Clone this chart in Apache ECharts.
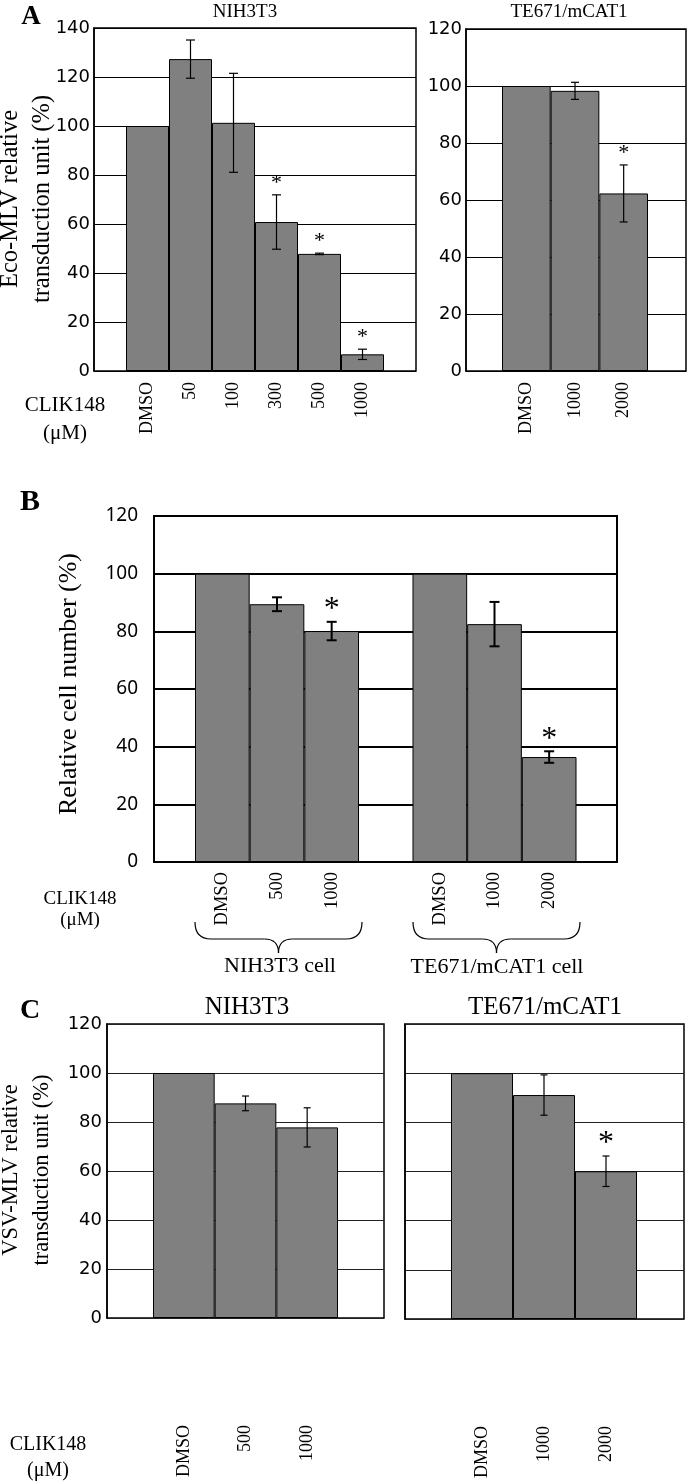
<!DOCTYPE html>
<html><head><meta charset="utf-8">
<script src="https://cdn.jsdelivr.net/npm/echarts@6/dist/echarts.min.js"></script>
<style>html,body{margin:0;padding:0;background:#fff}#c{width:688px;height:1483px}</style>
</head><body><div id="c"></div>
<script>
// ---- data ----
const aNihCats = ['DMSO', '50', '100', '300', '500', '1000'];
const aNihVals = [100, 127.3, 101.3, 60.8, 47.8, 6.8];
const aNihErr  = [0, 7.8, 20.2, 11.1, 0.3, 2.1];
const aNihSig  = [0, 0, 0, 1, 1, 1];

const aTeCats = ['DMSO', '1000', '2000'];
const aTeVals = [100, 98.3, 62.3];
const aTeErr  = [0, 3.0, 10.0];
const aTeSig  = [0, 0, 1];

const bNihCats = ['DMSO', '500', '1000'];
const bNihVals = [100, 89.4, 80.1];
const bNihErr  = [0, 2.4, 3.2];
const bNihSig  = [0, 0, 1];

const bTeCats = ['DMSO', '1000', '2000'];
const bTeVals = [100, 82.5, 36.4];
const bTeErr  = [0, 7.7, 2.0];
const bTeSig  = [0, 0, 1];

const cNihCats = ['DMSO', '500', '1000'];
const cNihVals = [100, 87.6, 77.8];
const cNihErr  = [0, 3.0, 8.0];
const cNihSig  = [0, 0, 0];

const cTeCats = ['DMSO', '1000', '2000'];
const cTeVals = [100, 91.1, 60.1];
const cTeErr  = [0, 8.2, 6.2];
const cTeSig  = [0, 0, 1];

const yTicksA1 = 140, yTicksA2 = 120, yTicksB = 120, yTicksC = 120;

// ---- layout / style ----
const SERIF = '"Liberation Serif","Times New Roman",serif';
const SANS = '"DejaVu Sans",sans-serif';

const panels = [
  { outer: {left: 94, top: 28, width: 322, height: 343}, yMax: yTicksA1, yLab: {show: true, font: SANS, size: 18, margin: 4},
    grid: {color: '#000', w: 1}, frame: 1.5, xLab: {size: 18, margin: 11},
    err: {lw: 1.2, cap: 9}, star: {size: 22, off: 12},
    inners: [{left: 126, width: 258, cats: aNihCats, vals: aNihVals, errs: aNihErr, sig: aNihSig}] },
  { outer: {left: 466, top: 29, width: 220, height: 342}, yMax: yTicksA2, yLab: {show: true, font: SANS, size: 18, margin: 4},
    grid: {color: '#000', w: 1}, frame: 1.5, xLab: {size: 18, margin: 11},
    err: {lw: 1.2, cap: 8}, star: {size: 22, off: 12},
    inners: [{left: 502, width: 146, cats: aTeCats, vals: aTeVals, errs: aTeErr, sig: aTeSig}] },
  { outer: {left: 154, top: 516, width: 463, height: 346}, yMax: yTicksB, yLab: {show: true, font: '"Noto Sans",sans-serif', size: 19, margin: 16},
    grid: {color: '#000', w: 2}, frame: 2, xLab: {size: 18.5, margin: 10},
    err: {lw: 2, cap: 10}, star: {size: 32, off: 12},
    inners: [{left: 195, width: 164, cats: bNihCats, vals: bNihVals, errs: bNihErr, sig: bNihSig},
             {left: 412.5, width: 164, cats: bTeCats, vals: bTeVals, errs: bTeErr, sig: bTeSig}] },
  { outer: {left: 107, top: 1024, width: 277, height: 294}, yMax: yTicksC, yLab: {show: true, font: SANS, size: 18, margin: 5},
    grid: {color: '#222', w: 1}, frame: 1.5, xLab: {size: 18, margin: 107},
    err: {lw: 1.2, cap: 7}, star: {size: 32, off: 12},
    inners: [{left: 153, width: 185, cats: cNihCats, vals: cNihVals, errs: cNihErr, sig: cNihSig}] },
  { outer: {left: 405, top: 1024, width: 279, height: 295}, yMax: yTicksC, yLab: {show: false, font: SANS, size: 18, margin: 5},
    grid: {color: '#222', w: 1}, frame: 1.5, xLab: {size: 18, margin: 107},
    err: {lw: 1.2, cap: 7}, star: {size: 32, off: 12},
    inners: [{left: 451, width: 186, cats: cTeCats, vals: cTeVals, errs: cTeErr, sig: cTeSig}] }
];

const grids = [], xAxes = [], yAxes = [], series = [];

function errRender(p) {
  return function (params, api) {
    const i = api.value(0), v = api.value(1), e = api.value(2), s = api.value(3);
    const children = [];
    const ctr = api.coord([i, v]);
    let topY = ctr[1];
    const ls = {stroke: '#000', lineWidth: p.err.lw};
    if (e > 0) {
      const t = api.coord([i, v + e]), b = api.coord([i, v - e]);
      const hw = p.err.cap / 2;
      children.push({type: 'line', shape: {x1: t[0], y1: t[1], x2: b[0], y2: b[1]}, style: ls});
      children.push({type: 'line', shape: {x1: t[0] - hw, y1: t[1], x2: t[0] + hw, y2: t[1]}, style: ls});
      children.push({type: 'line', shape: {x1: b[0] - hw, y1: b[1], x2: b[0] + hw, y2: b[1]}, style: ls});
      topY = t[1];
    }
    if (s) {
      children.push({type: 'text', x: ctr[0], y: topY - p.star.off,
        style: {text: '*', fontSize: p.star.size, fontFamily: SERIF, fill: '#000',
                align: 'center', verticalAlign: 'middle', textAlign: 'center', textVerticalAlign: 'middle'}});
    }
    return {type: 'group', children};
  };
}

panels.forEach(p => {
  const gi = grids.length;
  grids.push(Object.assign({show: true, borderColor: '#000', borderWidth: p.frame, backgroundColor: 'transparent',
    containLabel: false, outerBoundsMode: 'none'}, p.outer));
  xAxes.push({gridIndex: gi, type: 'value', min: 0, max: 1, show: false});
  yAxes.push({gridIndex: gi, type: 'value', min: 0, max: p.yMax, interval: 20,
    axisLine: {show: true, lineStyle: {color: '#000', width: p.frame}},
    axisTick: {show: false},
    axisLabel: {show: p.yLab.show, color: '#000', fontFamily: p.yLab.font, fontSize: p.yLab.size, margin: p.yLab.margin},
    splitLine: {show: true, lineStyle: {color: p.grid.color, width: p.grid.w}}});
  p.inners.forEach(inn => {
    const ii = grids.length;
    grids.push({left: inn.left, width: inn.width, top: p.outer.top, height: p.outer.height, show: false,
      containLabel: false, outerBoundsMode: 'none'});
    xAxes.push({gridIndex: ii, type: 'category', data: inn.cats, boundaryGap: true,
      axisLine: {show: false}, axisTick: {show: false}, splitLine: {show: false},
      axisLabel: {rotate: 90, interval: 0, color: '#000', fontFamily: SERIF, fontSize: p.xLab.size, margin: p.xLab.margin}});
    yAxes.push({gridIndex: ii, type: 'value', min: 0, max: p.yMax, show: false, splitLine: {show: false}});
    series.push({type: 'bar', xAxisIndex: ii, yAxisIndex: ii, data: inn.vals, barCategoryGap: '0%',
      itemStyle: {color: '#808080', borderColor: '#000', borderWidth: 1}, z: 3});
    series.push({type: 'custom', xAxisIndex: ii, yAxisIndex: ii, z: 4,
      data: inn.cats.map((c, i) => [i, inn.vals[i], inn.errs[i], inn.sig[i]]),
      encode: {x: 0, y: 1}, renderItem: errRender(p)});
  });
});

function txt(text, x, y, size, opts) {
  opts = opts || {};
  return {type: 'text', x: x, y: y, rotation: opts.rot || 0, z: 10,
    style: {text: text, fontSize: size, fontFamily: opts.font || SERIF, fontWeight: opts.weight || 'normal',
      fill: '#000', lineHeight: opts.lh, align: opts.align || 'center', verticalAlign: 'middle',
      textAlign: opts.align || 'center', textVerticalAlign: 'middle'}};
}

function brace(x0, x1, yTop, yMid, yTip) {
  const cx = (x0 + x1) / 2, s = {stroke: '#000', lineWidth: 1.2, fill: null};
  const r = 16, t = 14;
  return [
    {type: 'bezierCurve', shape: {x1: x0, y1: yTop, cpx1: x0, cpy1: yMid, x2: x0 + r, y2: yMid}, style: s},
    {type: 'line', shape: {x1: x0 + r, y1: yMid, x2: cx - t, y2: yMid}, style: s},
    {type: 'bezierCurve', shape: {x1: cx - t, y1: yMid, cpx1: cx, cpy1: yMid, x2: cx, y2: yTip}, style: s},
    {type: 'bezierCurve', shape: {x1: cx, y1: yTip, cpx1: cx, cpy1: yMid, x2: cx + t, y2: yMid}, style: s},
    {type: 'line', shape: {x1: cx + t, y1: yMid, x2: x1 - r, y2: yMid}, style: s},
    {type: 'bezierCurve', shape: {x1: x1 - r, y1: yMid, cpx1: x1, cpy1: yMid, x2: x1, y2: yTop}, style: s}
  ];
}

const graphics = [
  txt('A', 31, 17, 27, {weight: 'bold'}),
  txt('NIH3T3', 245, 12, 19),
  txt('TE671/mCAT1', 569, 12, 19),
  txt('Eco-MLV relative\ntransduction unit (%)', 27, 199, 24.5, {rot: Math.PI / 2, lh: 32}),
  txt('CLIK148\n(μM)', 65, 419, 21, {lh: 28}),

  txt('B', 30, 502, 30, {weight: 'bold'}),
  txt('Relative cell number (%)', 69, 684, 26, {rot: Math.PI / 2}),
  txt('CLIK148\n(μM)', 80, 910, 19, {lh: 21}),
  txt('NIH3T3 cell', 280, 966, 22),
  txt('TE671/mCAT1 cell', 497, 967, 22),

  txt('C', 30, 1011, 28, {weight: 'bold'}),
  txt('NIH3T3', 247, 1007, 25),
  txt('TE671/mCAT1', 545, 1007, 25),
  txt('VSV-MLV relative\ntransduction unit (%)', 27, 1170, 22.5, {rot: Math.PI / 2, lh: 31}),
  txt('CLIK148\n(μM)', 48, 1458, 20, {lh: 26})
].concat(brace(195, 362, 922, 939, 953), brace(413, 580, 922, 939, 953));

const chart = echarts.init(document.getElementById('c'), null, {renderer: 'canvas'});
chart.setOption({
  animation: false,
  backgroundColor: '#fff',
  grid: grids, xAxis: xAxes, yAxis: yAxes, series: series,
  graphic: graphics
});
</script></body></html>
